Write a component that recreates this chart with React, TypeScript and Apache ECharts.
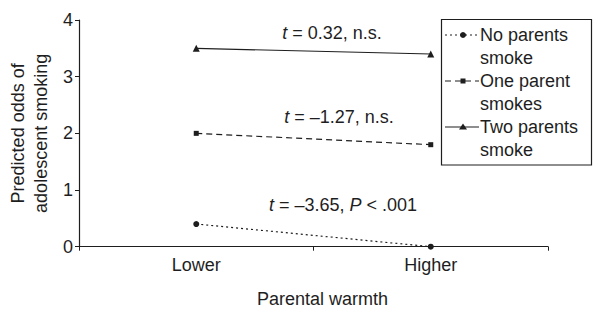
import React, { useEffect, useRef } from "react";
import * as echarts from "echarts";

const categories = ["Lower", "Higher"];
const seriesNames = ["No parents smoke", "One parent smokes", "Two parents smoke"];
const legendLines = [["No parents", "smoke"], ["One parent", "smokes"], ["Two parents", "smoke"]];
const noParents = [0.4, 0.0];
const oneParent = [2.0, 1.8];
const twoParents = [3.5, 3.4];
const annotations = ["{i|t} = 0.32, n.s.", "{i|t} = –1.27, n.s.", "{i|t} = –3.65, {i|P} < .001"];
const yTicks = [0, 1, 2, 3, 4];

const FONT = "Liberation Sans, Arial, Helvetica, sans-serif";
const INK = "#1e1e1e";

export default function App() {
  const ref = useRef<HTMLDivElement>(null);
  useEffect(() => {
    document.body.style.margin = "0";
    const chart = echarts.init(ref.current!, null, { renderer: "svg" });
    const symbols = ["circle", "rect", "triangle"];
    const symbolSizes = [6, 5, 7];
    const dashes: any[] = [[2, 3], [6, 4], "solid"];
    const data = [noParents, oneParent, twoParents];

    const series = data.map((d, i) => ({
      name: seriesNames[i],
      type: "line",
      data: d,
      symbol: symbols[i],
      symbolSize: symbolSizes[i],
      itemStyle: { color: INK },
      lineStyle: { color: INK, width: 1.2, type: dashes[i] },
      silent: true,
    }));

    const annPos = [
      [332, 33],
      [339, 117],
      [343, 205],
    ];
    const graphics: any[] = annotations.map((t, i) => ({
      type: "text",
      x: annPos[i][0],
      y: annPos[i][1],
      style: {
        text: t,
        font: `18px ${FONT}`,
        fill: INK,
        align: "center",
        verticalAlign: "middle",
        rich: { i: { fontStyle: "italic", fontSize: 18, fontFamily: FONT, fill: INK } },
      },
    }));

    // legend box
    const lx = 441.5, ly = 19.5;
    const children: any[] = [
      {
        type: "rect",
        shape: { x: lx, y: ly, width: 150, height: 145.5 },
        style: { fill: "#fff", stroke: INK, lineWidth: 1.2 },
      },
    ];
    legendLines.forEach((lines, i) => {
      const cy = 35 + i * 46;
      const ld = dashes[i] === "solid" ? null : dashes[i];
      children.push({
        type: "line",
        shape: { x1: 445, y1: cy, x2: 479, y2: cy },
        style: { stroke: INK, lineWidth: 1.2, lineDash: ld },
      });
      if (i === 0) {
        children.push({ type: "circle", shape: { cx: 463, cy, r: 3 }, style: { fill: INK } });
      } else if (i === 1) {
        children.push({ type: "rect", shape: { x: 460.5, y: cy - 2.5, width: 5, height: 5 }, style: { fill: INK } });
      } else {
        children.push({
          type: "polygon",
          shape: { points: [[463, cy - 3.5], [459, cy + 2.5], [467, cy + 2.5]] },
          style: { fill: INK },
        });
      }
      lines.forEach((ln, j) => {
        children.push({
          type: "text",
          x: 480,
          y: cy + j * 23,
          style: { text: ln, font: `18px ${FONT}`, fill: INK, verticalAlign: "middle" },
        });
      });
    });
    graphics.push({ type: "group", children });

    chart.setOption({
      animation: false,
      textStyle: { fontFamily: FONT, color: INK },
      grid: { left: 79, right: 45, top: 20, bottom: 63.3, containLabel: false, outerBoundsMode: "none" },
      xAxis: {
        type: "category",
        data: categories,
        boundaryGap: true,
        name: "Parental warmth",
        nameLocation: "middle",
        nameGap: 43,
        nameTextStyle: { fontSize: 18, color: INK, fontFamily: FONT, padding: [0, 0, 0, 18] },
        axisLine: { lineStyle: { color: INK, width: 1.2 } },
        axisTick: { show: true, length: 4, inside: false, lineStyle: { color: INK } },
        axisLabel: { fontSize: 18, color: INK, margin: 9, fontFamily: FONT },
        splitLine: { show: false },
      },
      yAxis: {
        type: "value",
        min: yTicks[0],
        max: yTicks[yTicks.length - 1],
        interval: 1,
        name: "Predicted odds of\nadolescent smoking",
        nameLocation: "middle",
        nameGap: 23,
        nameTextStyle: { fontSize: 18, color: INK, fontFamily: FONT, lineHeight: 23 },
        axisLine: { show: true, lineStyle: { color: INK, width: 1.2 } },
        axisTick: { show: true, length: 4, lineStyle: { color: INK } },
        axisLabel: { fontSize: 18, color: INK, margin: 6, fontFamily: FONT },
        splitLine: { show: false },
      },
      series,
      graphic: graphics,
    });
    return () => chart.dispose();
  }, []);
  return <div ref={ref} style={{ width: 593, height: 310 }} />;
}
